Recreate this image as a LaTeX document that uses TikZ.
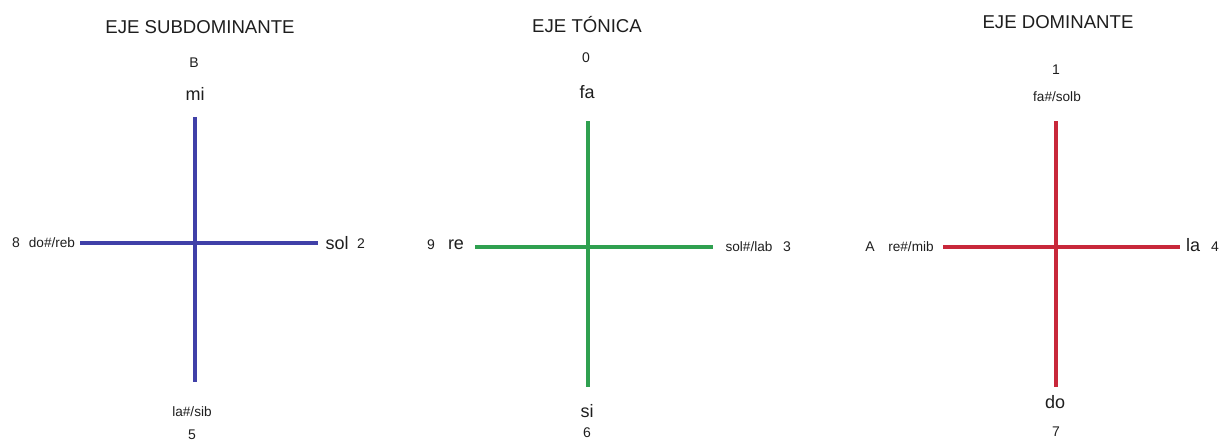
\documentclass[tikz,border=0pt]{standalone}
\usepackage{fontspec}
\setmainfont{Liberation Sans}
\usetikzlibrary{calc, positioning}

\definecolor{ejeblue}{RGB}{64,64,168}
\definecolor{ejegreen}{RGB}{47,160,80}
\definecolor{ejered}{RGB}{200,40,58}
\definecolor{ejetext}{RGB}{30,30,30}

\tikzset{
  title/.style={inner sep=0pt, text=ejetext, font=\fontsize{18.6}{21}\selectfont},
  bignote/.style={inner sep=0pt, text=ejetext, font=\fontsize{18}{21}\selectfont},
  smallnote/.style={inner sep=0pt, text=ejetext, font=\fontsize{13.6}{16}\selectfont},
  num/.style={inner sep=0pt, text=ejetext, font=\fontsize{14}{16}\selectfont},
  axis/.style={line width=3.8pt}
}

\begin{document}
\begin{tikzpicture}[x=1pt, y=-1pt]
\useasboundingbox (0,0) rectangle (1222,441);

% eje subdominante
\node[title] (tsub) at (200,27) {EJE SUBDOMINANTE};
\node[num] (nB) at (194,63) {B};
\node[bignote] (mi) at (195,94) {mi};
\node[num] (n8) at (16,243) {8};
\node[smallnote] (doreb) at (52,243) {do\#/reb};
\node[bignote] (sol) at (337,243) {sol};
\node[num] (n2) at (361,244) {2};
\node[smallnote] (lasib) at (192,412) {la\#/sib};
\node[num] (n5) at (192,435) {5};

\coordinate (subT) at (195,117);
\coordinate (subB) at (195,382);
\coordinate (subL) at (80,243);
\coordinate (subR) at (318,243);
\draw[axis, ejeblue] (subT) -- (subB);
\draw[axis, ejeblue] (subL) -- (subR);

% eje tonica
\node[title] (tton) at (587,25) {EJE TÓNICA};
\node[num] (n0) at (586,58) {0};
\node[bignote] (fa) at (587,92) {fa};
\node[num] (n9) at (431,245) {9};
\node[bignote] (re) at (456,245) {re};
\node[smallnote] (sollab) at (749,247) {sol\#/lab};
\node[num] (n3) at (787,247) {3};
\node[bignote] (si) at (587,411) {si};
\node[num] (n6) at (587,433) {6};

\coordinate (tonT) at (588,121);
\coordinate (tonB) at (588,387);
\coordinate (tonL) at (475,247);
\coordinate (tonR) at (713,247);
\draw[axis, ejegreen] (tonT) -- (tonB);
\draw[axis, ejegreen] (tonL) -- (tonR);

% eje dominante
\node[title] (tdom) at (1058,22) {EJE DOMINANTE};
\node[num] (n1) at (1056,70) {1};
\node[smallnote] (fasolb) at (1057,97) {fa\#/solb};
\node[num] (nA) at (870,247) {A};
\node[smallnote] (remib) at (911,247) {re\#/mib};
\node[bignote] (la) at (1193,245) {la};
\node[num] (n4) at (1215,247) {4};
\node[bignote] (do) at (1055,402) {do};
\node[num] (n7) at (1056,432) {7};

\coordinate (domT) at (1056,121);
\coordinate (domB) at (1056,387);
\coordinate (domL) at (943,247);
\coordinate (domR) at (1180,247);
\draw[axis, ejered] (domT) -- (domB);
\draw[axis, ejered] (domL) -- (domR);
\end{tikzpicture}
\end{document}
